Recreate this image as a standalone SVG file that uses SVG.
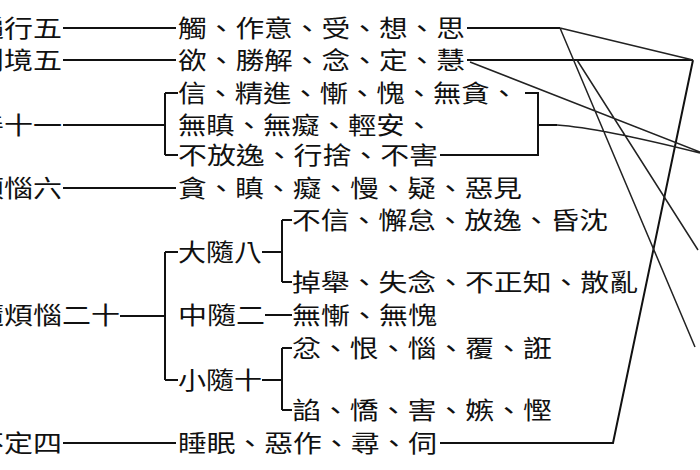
<svg xmlns="http://www.w3.org/2000/svg" width="700" height="470" viewBox="0 0 700 470">
<style>
text{font-family:"Noto Sans CJK TC","Noto Sans CJK SC",sans-serif;font-size:24px;fill:#111;}
.l{stroke:#111;stroke-width:2;fill:none;}
.t{stroke:#222;stroke-width:1.5;fill:none;}
</style>
<rect width="700" height="470" fill="#fff"/>
<g id="n-bianxing"><text x="-25" y="37" textLength="87" lengthAdjust="spacingAndGlyphs">遍行五</text><text x="178" y="37" textLength="287" lengthAdjust="spacingAndGlyphs">觸、作意、受、想、思</text></g>
<g id="n-biejing"><text x="-25" y="69" textLength="87" lengthAdjust="spacingAndGlyphs">別境五</text><text x="178" y="69" textLength="287" lengthAdjust="spacingAndGlyphs">欲、勝解、念、定、慧</text></g>
<g id="n-shan"><text x="-25" y="134" textLength="87" lengthAdjust="spacingAndGlyphs">善十一</text>
<text x="178" y="102" textLength="340" lengthAdjust="spacingAndGlyphs">信、精進、慚、愧、無貪、</text>
<text x="178" y="134" textLength="255" lengthAdjust="spacingAndGlyphs">無瞋、無癡、輕安、</text>
<text x="178" y="164" textLength="260" lengthAdjust="spacingAndGlyphs">不放逸、行捨、不害</text></g>
<g id="n-genben"><text x="-83" y="197" textLength="145" lengthAdjust="spacingAndGlyphs">根本煩惱六</text><text x="178" y="197" textLength="344" lengthAdjust="spacingAndGlyphs">貪、瞋、癡、慢、疑、惡見</text></g>
<g id="n-sui"><text x="-25" y="324" textLength="145" lengthAdjust="spacingAndGlyphs">隨煩惱二十</text></g>
<g id="n-dasui"><text x="178" y="261" textLength="84" lengthAdjust="spacingAndGlyphs">大隨八</text>
<text x="292" y="229" textLength="316" lengthAdjust="spacingAndGlyphs">不信、懈怠、放逸、昏沈</text>
<text x="292" y="291" textLength="346" lengthAdjust="spacingAndGlyphs">掉舉、失念、不正知、散亂</text></g>
<g id="n-zhongsui"><text x="178" y="324" textLength="87" lengthAdjust="spacingAndGlyphs">中隨二</text><text x="292" y="324" textLength="145" lengthAdjust="spacingAndGlyphs">無慚、無愧</text></g>
<g id="n-xiaosui"><text x="178" y="389" textLength="84" lengthAdjust="spacingAndGlyphs">小隨十</text>
<text x="292" y="357" textLength="260" lengthAdjust="spacingAndGlyphs">忿、恨、惱、覆、誑</text>
<text x="292" y="419" textLength="260" lengthAdjust="spacingAndGlyphs">諂、憍、害、嫉、慳</text></g>
<g id="n-buding"><text x="-25" y="452" textLength="87" lengthAdjust="spacingAndGlyphs">不定四</text><text x="178" y="452" textLength="259" lengthAdjust="spacingAndGlyphs">睡眠、惡作、尋、伺</text></g>
<g id="connectors">
<path class="l" d="M63 28H176M63 60H176M63 125H165M165 93V155M165 93H178M165 155H178M63 188H176"/>
<path class="l" d="M120 316H165M165 252V380M165 252H178M165 380H178"/>
<path class="l" d="M262 252H282M282 220V282M282 220H292M282 282H292M265 315H292M262 380H282M282 348V410M282 348H292M282 410H292"/>
<path class="l" d="M63 443H176M440 443H613L693 60M467 28H560M467 60H693"/>
<path class="l" d="M525 93H538V155H440M538 125H557"/>
<path class="t" d="M560 28L693 60M560 28L695 347M577 60L698 250M470 62L700 152M557 125Q600 128 700 153"/>
</g>
</svg>
